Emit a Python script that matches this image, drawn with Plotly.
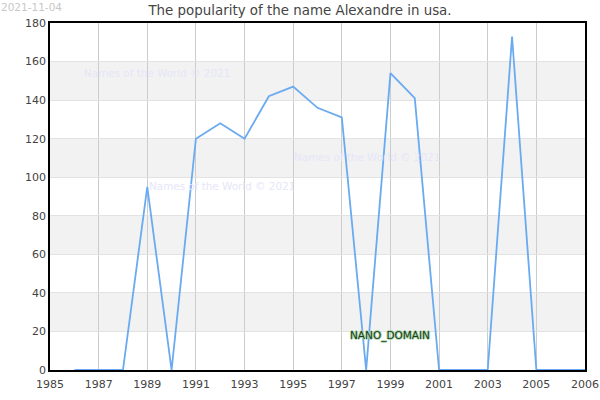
import plotly.graph_objects as go

# Popularity of the name Alexandre in usa
years = list(range(1986, 2008))
counts = [0, 0, 0, 95, 0, 120, 128, 120, 142, 147, 136, 131,
          0, 154, 141, 0, 0, 0, 173, 0, 0, 0]

x_tickvals = [1985, 1987, 1989, 1991, 1993, 1995, 1997, 1999, 2001, 2003, 2005, 2007]
x_ticktext = ['1985', '1987', '1989', '1991', '1993', '1995', '1997', '1999', '2001', '2003', '2005', '2006']
y_tickvals = [0, 20, 40, 60, 80, 100, 120, 140, 160, 180]

fig = go.Figure()
fig.add_trace(go.Scatter(x=years, y=counts, mode='lines',
                         line=dict(color='#6aaaf0', width=1.8), hoverinfo='x+y'))

# grey bands every other 20 units
shapes = []
for lo, hi in zip(y_tickvals[1::2], y_tickvals[2::2]):
    shapes.append(dict(type='rect', xref='paper', yref='y', x0=0, x1=1, y0=lo, y1=hi,
                       fillcolor='#f2f2f2', line_width=0, layer='below'))

wm = dict(text='Names of the World © 2021', showarrow=False, xref='paper', yref='paper',
          xanchor='left', yanchor='middle', font=dict(family='DejaVu Sans', size=10.4, color='#e6e6f8'))
annotations = [
    dict(wm, x=0.06, y=0.857),
    dict(wm, x=0.452, y=0.615),
    dict(wm, x=0.182, y=0.529),
    dict(text='2021-11-04', showarrow=False, x=-0.095, y=1.068, xref='paper', yref='paper',
         xanchor='left', yanchor='top', font=dict(family='DejaVu Sans', size=10.5, color='#c8c8c8')),
    dict(text='NANO_DOMAIN', showarrow=False, x=0.557, y=0.1, xref='paper', yref='paper',
         xanchor='left', yanchor='middle',
         font=dict(family='DejaVu Sans', size=10.5, color='#1e3a22',
                   shadow='1px 0 0 #a8d8a8, -1px 0 0 #a8d8a8, 0 1px 0 #a8d8a8, 0 -1px 0 #a8d8a8')),
]

fig.update_layout(
    width=600, height=400,
    margin=dict(l=50, r=15, t=23, b=30),
    plot_bgcolor='white', paper_bgcolor='white',
    showlegend=False,
    title=dict(text='The popularity of the name Alexandre in usa.', x=0.5, xanchor='center',
               y=0.975, yanchor='middle', font=dict(family='DejaVu Sans', size=13.4, color='#444')),
    font=dict(family='DejaVu Sans', size=11, color='#444'),
    shapes=shapes,
    annotations=annotations,
    xaxis=dict(range=[1985, 2007], tickvals=x_tickvals, ticktext=x_ticktext,
               showgrid=True, gridcolor='#cccccc', gridwidth=1, zeroline=False,
               showline=True, linecolor='black', linewidth=1.5, mirror=True, automargin=False,
               ticks='', ticklabelstandoff=3, tickfont=dict(size=11, color='#444')),
    yaxis=dict(range=[0, 180], tickvals=y_tickvals,
               showgrid=True, gridcolor='#e2e2e2', gridwidth=1, zeroline=False,
               showline=True, linecolor='black', linewidth=1.5, mirror=True, automargin=False,
               ticks='', tickfont=dict(size=11, color='#444')),
)

# drop the default page margin so the figure sits at the window's corner
fig.write_html("out.html", config={'displayModeBar': False},
               post_script="document.body.style.margin='0';")
